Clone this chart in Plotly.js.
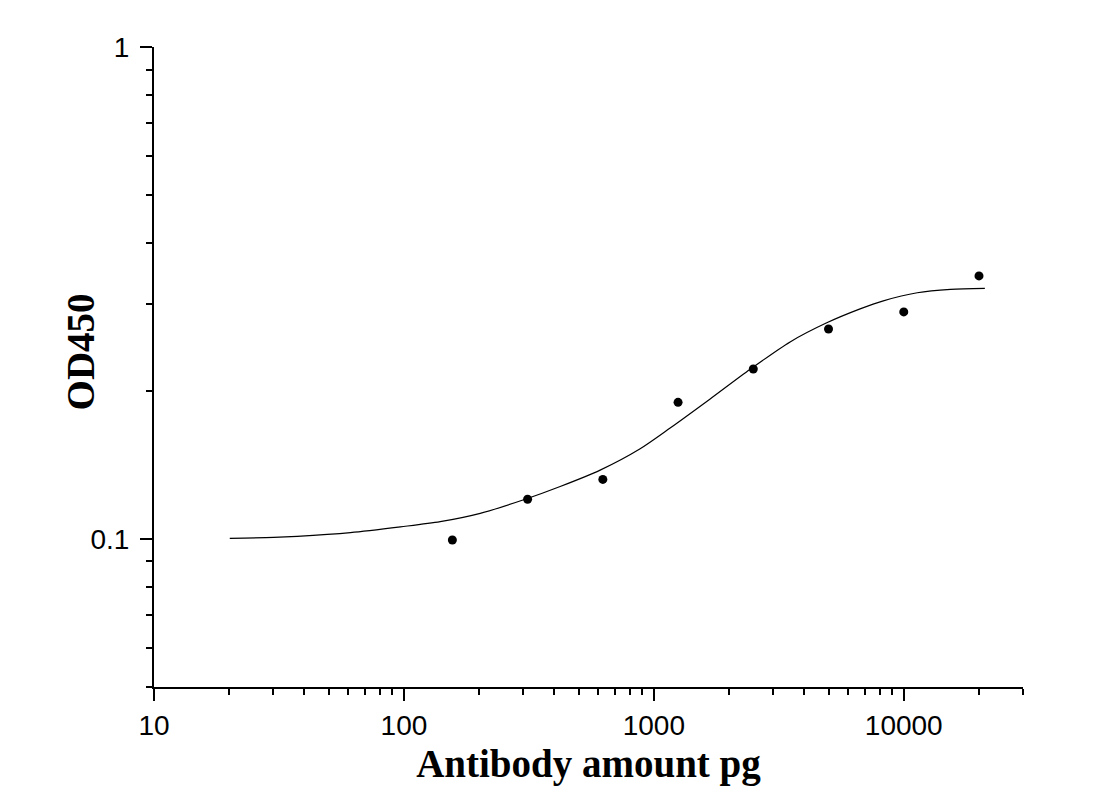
<!DOCTYPE html>
<html>
<head>
<meta charset="utf-8">
<script src="https://cdn.plot.ly/plotly-3.0.1.min.js"></script>
<style>html,body{margin:0;padding:0;background:#fff;}#chart{width:1104px;height:803px;}</style>
</head>
<body>
<div id="chart"></div>
<script>
// Measured standards (antibody amount in pg vs OD450)
const amounts = [156.25, 312.5, 625, 1250, 2500, 5000, 10000, 20000];
const od450 = [0.0995, 0.1204, 0.1321, 0.1895, 0.2215, 0.2671, 0.2894, 0.3425];

// Fitted curve
const curveX = [20.1, 30.1, 37.4, 61.1, 96.9, 139.7, 202, 305.6, 421.9, 609.9, 881.6, 1162, 1680, 2428, 3510, 4920, 6688, 8285, 11324, 15390, 21110];
const curveY = [0.1003, 0.1007, 0.1012, 0.1030, 0.1058, 0.1084, 0.1127, 0.1204, 0.1278, 0.1380, 0.1525, 0.1680, 0.1925, 0.2212, 0.2515, 0.2750, 0.2935, 0.3048, 0.3165, 0.3215, 0.3230];

const xTitle = 'Antibody amount pg';
const yTitle = 'OD450';

const traces = [
  {x: curveX, y: curveY, type: 'scatter', mode: 'lines', line: {color: '#000', width: 1.2, shape: 'spline', smoothing: 0.8}, hoverinfo: 'skip'},
  {x: amounts, y: od450, type: 'scatter', mode: 'markers', marker: {color: '#000', size: 9}}
];

const tickFont = {family: '"Liberation Sans", Arial, sans-serif', size: 28, color: '#000'};
const titleFont = {family: '"Liberation Serif", "Times New Roman", serif', size: 39, color: '#000', weight: 'bold'};

const layout = {
  width: 1104, height: 803,
  margin: {l: 154, r: 81, t: 47, b: 116},
  paper_bgcolor: '#fff', plot_bgcolor: '#fff',
  showlegend: false,
  xaxis: {
    type: 'log', range: [1, Math.log10(30000)], dtick: 1, tickformat: 'd',
    showgrid: false, zeroline: false,
    showline: true, linecolor: '#000', linewidth: 2, mirror: false,
    ticks: 'outside', ticklen: 12, tickwidth: 2, tickcolor: '#000',
    minor: {ticks: 'outside', ticklen: 6, tickwidth: 2, tickcolor: '#000', dtick: 'D1', showgrid: false},
    tickfont: tickFont,
    title: {text: '<b>' + xTitle + '</b>', font: titleFont, standoff: 10},
    automargin: false, fixedrange: true
  },
  yaxis: {
    type: 'log', range: [Math.log10(0.05), 0], dtick: 1,
    exponentformat: 'none', showgrid: false, zeroline: false,
    showline: true, linecolor: '#000', linewidth: 2, mirror: false,
    ticks: 'outside', ticklen: 12, tickwidth: 2, tickcolor: '#000',
    ticklabelstandoff: 5,
    minor: {ticks: 'outside', ticklen: 6, tickwidth: 2, tickcolor: '#000', dtick: 'D1', showgrid: false},
    tickfont: tickFont,
    automargin: false, fixedrange: true
  },
  annotations: [{
    text: '<b>' + yTitle + '</b>', font: titleFont, textangle: -90,
    xref: 'paper', yref: 'paper', x: -0.085, y: 0.523, xanchor: 'center', yanchor: 'middle', showarrow: false
  }]
};

Plotly.newPlot('chart', traces, layout, {displayModeBar: false, staticPlot: true});
</script>
</body>
</html>
